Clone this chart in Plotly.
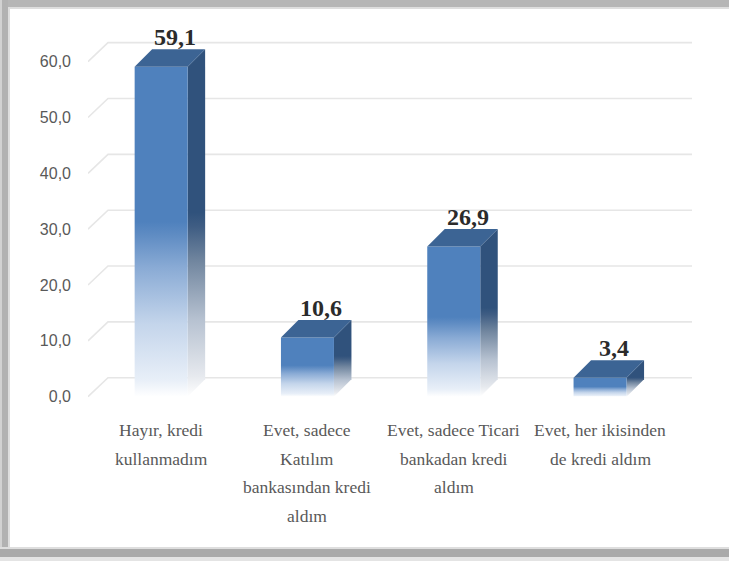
import plotly.graph_objects as go

# ---- data -------------------------------------------------------------
categories = [
    "Hayır, kredi\nkullanmadım",
    "Evet, sadece\nKatılım\nbankasından kredi\naldım",
    "Evet, sadece Ticari\nbankadan kredi\naldım",
    "Evet, her ikisinden\nde kredi aldım",
]
values = [59.1, 10.6, 26.9, 3.4]
y_ticks = [0, 10, 20, 30, 40, 50, 60]

# ---- geometry ---------------------------------------------------------
W, H = 729, 561
ML, MR, MT, MB = 88, 29, 20, 151
PW, PH = W - ML - MR, H - MT - MB
PX_X = 146.3          # pixels per category step
PX_Y = 5.584          # pixels per value unit
ZERO_PX = 396.7       # pixel row of value 0 on the front plane

x_range = [-0.5, -0.5 + PW / PX_X]
y_range = [-(MT + PH - ZERO_PX) / PX_Y, (ZERO_PX - MT) / PX_Y]

half_w = 26.5 / PX_X            # half bar width
bar_dx = 17.5 / PX_X            # bar depth, horizontal
bar_dy = 17.5 / PX_Y            # bar depth, vertical
grid_dx = 20 / PX_X
grid_dy = 19 / PX_Y
grid_right = -0.5 + 604 / PX_X


def paper_x(px):
    return (px - ML) / PW


def paper_y(py):
    return (MT + PH - py) / PH


FRONT = "#4f81bd"
TOP = "#3c6494"
SIDE = "#30527c"

front_scale = [
    [0.0, "#ffffff"], [0.05, "#e8eff8"], [0.22, "#c4d5eb"],
    [0.39, "#8aabd5"], [0.49, "#5f8cc3"], [0.53, FRONT], [1.0, FRONT],
]
side_scale = [
    [0.0, "#ffffff"], [0.06, "#e6e9ee"], [0.22, "#b7c2d1"],
    [0.39, "#71869f"], [0.49, "#3f5d83"], [0.53, SIDE], [1.0, SIDE],
]

fig = go.Figure()

# ---- grid: back wall lines plus the receding left edge ----------------
for t in y_ticks:
    fig.add_trace(go.Scatter(
        x=[-0.5, -0.5 + grid_dx, grid_right],
        y=[t, t + grid_dy, t + grid_dy],
        mode="lines", line=dict(color="#e6e6e6", width=1.6),
        hoverinfo="skip", showlegend=False,
    ))

# ---- 3-D bars ---------------------------------------------------------
no_line = dict(width=0, color="rgba(0,0,0,0)")
for i, v in enumerate(values):
    x0, x1 = i - half_w, i + half_w
    # right side face
    fig.add_trace(go.Scatter(
        x=[x1, x1 + bar_dx, x1 + bar_dx, x1, x1],
        y=[0, bar_dy, v + bar_dy, v, 0],
        fill="toself", mode="lines", line=no_line,
        fillgradient=dict(type="vertical", colorscale=side_scale),
        hoverinfo="skip", showlegend=False,
    ))
    # front face
    fig.add_trace(go.Scatter(
        x=[x0, x1, x1, x0, x0],
        y=[0, 0, v, v, 0],
        fill="toself", mode="lines", line=no_line,
        fillgradient=dict(type="vertical", colorscale=front_scale),
        hoverinfo="skip", showlegend=False,
    ))
    # top face
    fig.add_trace(go.Scatter(
        x=[x0, x1, x1 + bar_dx, x0 + bar_dx, x0],
        y=[v, v, v + bar_dy, v + bar_dy, v],
        fill="toself", mode="lines", line=no_line, fillcolor=TOP,
        hoverinfo="skip", showlegend=False,
    ))

annotations = []

# ---- value labels -----------------------------------------------------
for i, v in enumerate(values):
    annotations.append(dict(
        x=i + 14 / PX_X, y=v + bar_dy, xref="x", yref="y",
        text=f"{v:.1f}".replace(".", ","), showarrow=False,
        xanchor="center", yanchor="bottom", yshift=-3,
        font=dict(family="Liberation Serif", size=24, color="#2b2b2b",
                  weight="bold"),
    ))

# ---- category labels (one annotation per line for wider leading) -----
for i, cat in enumerate(categories):
    for j, line in enumerate(cat.split("\n")):
        annotations.append(dict(
            x=i, y=paper_y(430 + 28.5 * j), xref="x", yref="paper",
            text=line, showarrow=False, xanchor="center", yanchor="middle",
            font=dict(family="Liberation Serif", size=17.5, color="#595959"),
        ))

# ---- frame around the chart ------------------------------------------
def band(x0, y0, x1, y1, color):
    return dict(type="rect", xref="paper", yref="paper", layer="below",
                x0=paper_x(x0), x1=paper_x(x1), y0=paper_y(y0), y1=paper_y(y1),
                fillcolor=color, line=dict(width=0))


shapes = [
    band(0, 0, W, 7, "#b6b6b6"),
    band(0, 7, W, 9, "#dedede"),
    band(0, 0, 2, H, "#d2d2d2"),
    band(2, 0, 8, H, "#b2b2b2"),
    band(8, 9, 10, 548, "#dedede"),
    band(0, 547, W, 549, "#dedede"),
    band(0, 549, W, 557, "#aaaaaa"),
    band(0, 557, W, H, "#e4e4e4"),
]

fig.update_layout(
    width=W, height=H,
    margin=dict(l=ML, r=MR, t=MT, b=MB, pad=0),
    paper_bgcolor="#ffffff", plot_bgcolor="rgba(0,0,0,0)",
    separators=",.",
    showlegend=False,
    annotations=annotations,
    shapes=shapes,
    xaxis=dict(range=x_range, visible=False, fixedrange=True),
    yaxis=dict(
        range=y_range, tickvals=y_ticks, tickformat=".1f",
        showgrid=False, zeroline=False, showline=False, ticks="",
        ticklabelstandoff=16,
        tickfont=dict(family="Liberation Sans", size=16, color="#595959"),
        fixedrange=True,
    ),
)

fig.write_html("out.html")
